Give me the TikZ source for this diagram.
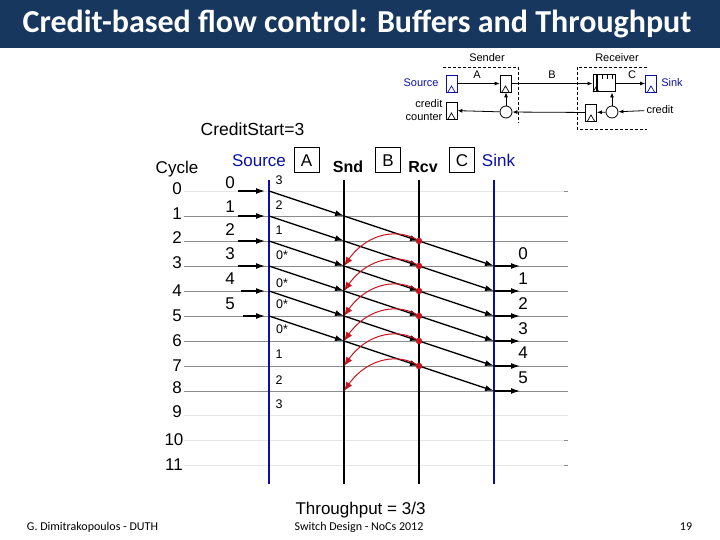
\documentclass[tikz,border=0pt]{standalone}
\usepackage{fontspec}
\usetikzlibrary{arrows.meta}
\setmainfont{Liberation Sans}
\newfontfamily\slidefont{Carlito}
\definecolor{barblue}{HTML}{17375E}
\definecolor{wireblue}{HTML}{0A0FA8}
\definecolor{creditred}{HTML}{C8141E}
\definecolor{gridlight}{HTML}{E6E6E6}
\definecolor{griddark}{HTML}{8C8C8C}
\tikzset{
    big/.style={inner sep=0pt, font=\fontsize{17}{18}\selectfont},
    count/.style={inner sep=0pt, font=\fontsize{12.5}{14}\selectfont},
    small/.style={inner sep=0pt, font=\fontsize{11}{13}\selectfont},
    foot/.style={inner sep=0pt, font=\slidefont\fontsize{12}{14}\selectfont},
    wirebox/.style={draw, line width=1pt, inner sep=0pt, minimum size=25pt, font=\fontsize{17}{18}\selectfont},
    reg/.style={draw, line width=0.8pt, inner sep=0pt, minimum width=11pt, minimum height=17pt},
    adder/.style={draw, circle, line width=0.8pt, inner sep=0pt, minimum size=12pt},
    wire/.style={-{Latex[length=5pt,width=4pt]}, line width=0.8pt},
    flow/.style={-{Latex[length=9pt,width=6pt]}, line width=1.3pt},
    credit/.style={-{Latex[length=9pt,width=7pt]}, line width=1pt, creditred},
    reddot/.style={circle, fill=creditred, inner sep=0pt, minimum size=6.5pt},
}
\begin{document}
\begin{tikzpicture}[x=1pt, y=-1pt]
    \useasboundingbox (0, 0) rectangle (720, 540);
    \fill[barblue] (0, 0) rectangle (720, 48);
    \node[inner sep=0pt, text=white, font=\slidefont\bfseries\fontsize{32}{34}\selectfont] (title) at (357, 24) {Credit-based flow control: Buffers and Throughput};

    % small circuit
    \node[small] (sender) at (487, 58) {Sender};
    \node[small] (receiver) at (617, 58) {Receiver};
    \draw[densely dashed, line width=0.8pt] (443, 67) -- (518, 67) -- (518, 123);
    \draw[densely dashed, line width=0.8pt] (647, 67) -- (577, 67) -- (577, 129) -- (647, 129);
    \node[small, text=wireblue] (srclabel) at (421, 83) {Source};
    \node[reg, draw=wireblue] (srcreg) at (451.5, 83.5) {};
    \node[reg] (sndreg) at (505.5, 83.5) {};
    \node[draw, line width=1pt, inner sep=0pt, minimum width=22pt, minimum height=17pt] (fifo) at (604, 83.5) {};
    \node[reg, draw=wireblue] (snkreg) at (651, 83.5) {};
    \node[small, text=wireblue] (snklabel) at (672, 83) {Sink};
    \node[small] (a) at (477, 75) {A};
    \node[small] (b) at (552, 75) {B};
    \node[small] (c) at (632, 75) {C};
    \node[small, align=right] (counterlabel) at (424, 110.5) {credit\\counter};
    \node[reg] (cntreg) at (451.5, 110.5) {};
    \node[adder] (sndadder) at (506, 112) {};
    \node[reg] (rcvreg) at (591, 112.5) {};
    \node[adder] (rcvadder) at (612, 112) {};
    \node[small] (creditlabel) at (660, 110) {credit};
    \draw (srcreg) edge[wire] (sndreg)
        (sndreg) edge[wire] (fifo)
        (fifo) edge[wire] (snkreg)
        (creditlabel) edge[wire, shorten <=2pt] (rcvadder)
        (rcvadder) edge[wire] (rcvreg)
        (rcvadder) edge[wire] (rcvadder |- fifo.south)
        (rcvreg) edge[wire] (sndadder)
        (sndadder) edge[wire] (cntreg)
        (sndadder) edge[wire] (sndadder |- sndreg.south);
    \draw[line width=1.2pt] (597, 75) -- (597, 92);
    \draw[line width=0.7pt] (602, 75) -- (602, 79) (607, 75) -- (607, 79) (612, 75) -- (612, 79);
    \draw[wireblue, line width=0.7pt] (448, 92) -- (451.5, 86) -- (455, 92);
    \draw[line width=0.7pt] (502, 92) -- (505.5, 86) -- (509, 92);
    \draw[line width=0.7pt] (593, 92) -- (596, 87) -- (599, 92);
    \draw[wireblue, line width=0.7pt] (647.5, 92) -- (651, 86) -- (654.5, 92);
    \draw[line width=0.7pt] (448, 119) -- (451.5, 113) -- (455, 119);
    \draw[line width=0.7pt] (587.5, 121) -- (591, 115) -- (594.5, 121);

    % headers
    \node[big, font=\fontsize{17.5}{18}\selectfont] (creditstart) at (252.5, 129) {CreditStart=3};
    \node[big] (cycle) at (177, 169) {Cycle};
    \node[big, text=wireblue] (source) at (259, 161) {Source};
    \node[wirebox] (boxa) at (306.5, 160.5) {A};
    \node[big, font=\bfseries\fontsize{16}{18}\selectfont] (snd) at (348, 167) {Snd};
    \node[wirebox] (boxb) at (388, 160.5) {B};
    \node[big, font=\bfseries\fontsize{16}{18}\selectfont] (rcv) at (423, 167) {Rcv};
    \node[wirebox] (boxc) at (462, 160.5) {C};
    \node[big, text=wireblue] (sink) at (498.5, 160) {Sink};

    % cycle lines
    \draw[gridlight] (184, 191) -- (568, 191);
    \draw[griddark] (184, 216) -- (568, 216);
    \draw[griddark] (184, 241) -- (568, 241);
    \draw[griddark] (184, 266) -- (568, 266);
    \draw[griddark] (184, 291) -- (568, 291);
    \draw[griddark] (184, 316) -- (568, 316);
    \draw[griddark] (184, 341) -- (568, 341);
    \draw[griddark] (184, 366) -- (568, 366);
    \draw[griddark] (184, 391) -- (568, 391);
    \draw[gridlight] (184, 415) -- (568, 415);
    \draw[gridlight] (184, 440) -- (568, 440);
    \draw[gridlight] (184, 465) -- (568, 465);
    \draw[griddark] (564, 191) -- (568, 191);
    \draw[griddark] (564, 440) -- (568, 440);
    \draw[griddark] (564, 465) -- (568, 465);

    \draw[wireblue, line width=2.6pt] (269, 180) -- (269, 484);
    \draw[line width=2.6pt] (344, 180) -- (344, 484);
    \draw[line width=2.6pt] (419, 180) -- (419, 484);
    \draw[wireblue, line width=2.6pt] (494, 180) -- (494, 484);

    % cycle numbers
    \node[big] (cyc0) at (177, 189) {0};
    \node[big] (cyc1) at (177, 214) {1};
    \node[big] (cyc2) at (177, 238) {2};
    \node[big] (cyc3) at (177, 263) {3};
    \node[big] (cyc4) at (177, 291) {4};
    \node[big] (cyc5) at (177, 316) {5};
    \node[big] (cyc6) at (177, 341) {6};
    \node[big] (cyc7) at (177, 366) {7};
    \node[big] (cyc8) at (177, 388) {8};
    \node[big] (cyc9) at (177, 412) {9};
    \node[big] (cyc10) at (174, 440) {10};
    \node[big] (cyc11) at (174, 465) {11};

    % flits entering
    \node[big] (in0) at (230, 183) {0};
    \node[big] (in1) at (230, 207) {1};
    \node[big] (in2) at (230, 230) {2};
    \node[big] (in3) at (230, 254) {3};
    \node[big] (in4) at (230, 279) {4};
    \node[big] (in5) at (230, 304) {5};

    % credit count
    \node[count] (count0) at (279, 180) {3};
    \node[count] (count1) at (279, 205) {2};
    \node[count] (count2) at (279, 230) {1};
    \node[count] (count3) at (282, 255) {0*};
    \node[count] (count4) at (282, 283) {0*};
    \node[count] (count5) at (282, 304) {0*};
    \node[count] (count6) at (282, 329) {0*};
    \node[count] (count7) at (279, 354) {1};
    \node[count] (count8) at (279, 380) {2};
    \node[count] (count9) at (279, 404) {3};

    % flits leaving
    \node[big] (out0) at (523, 254) {0};
    \node[big] (out1) at (523, 279) {1};
    \node[big] (out2) at (523, 304) {2};
    \node[big] (out3) at (523, 329) {3};
    \node[big] (out4) at (523, 353) {4};
    \node[big] (out5) at (523, 378) {5};

    \coordinate (start0) at (238, 191);
    \coordinate (start1) at (238, 216);
    \coordinate (start2) at (238, 241);
    \coordinate (start3) at (238, 266);
    \coordinate (start4) at (241, 291);
    \coordinate (start5) at (243, 316);
    \coordinate (src0) at (269, 191);
    \coordinate (src1) at (269, 216);
    \coordinate (src2) at (269, 241);
    \coordinate (src3) at (269, 266);
    \coordinate (src4) at (269, 291);
    \coordinate (src5) at (269, 316);
    \coordinate (snd0) at (344, 216);
    \coordinate (snd1) at (344, 241);
    \coordinate (snd2) at (344, 266);
    \coordinate (snd3) at (344, 291);
    \coordinate (snd4) at (344, 316);
    \coordinate (snd5) at (344, 341);
    \coordinate (snd6) at (344, 366);
    \coordinate (snd7) at (344, 391);
    \coordinate (rcv0) at (419, 241);
    \coordinate (rcv1) at (419, 266);
    \coordinate (rcv2) at (419, 291);
    \coordinate (rcv3) at (419, 316);
    \coordinate (rcv4) at (419, 341);
    \coordinate (rcv5) at (419, 366);
    \coordinate (snk0) at (494, 266);
    \coordinate (snk1) at (494, 291);
    \coordinate (snk2) at (494, 316);
    \coordinate (snk3) at (494, 341);
    \coordinate (snk4) at (494, 366);
    \coordinate (snk5) at (494, 391);
    \coordinate (end0) at (520, 266);
    \coordinate (end1) at (520, 291);
    \coordinate (end2) at (520, 316);
    \coordinate (end3) at (520, 341);
    \coordinate (end4) at (520, 366);
    \coordinate (end5) at (520, 391);

    \draw (start0) edge[flow, shorten >=4pt] (src0)
        (start1) edge[flow, shorten >=4pt] (src1)
        (start2) edge[flow, shorten >=4pt] (src2)
        (start3) edge[flow, shorten >=4pt] (src3)
        (start4) edge[flow, shorten >=4pt] (src4)
        (start5) edge[flow, shorten >=4pt] (src5);
    \draw (src0) edge[flow] (snd0)
        (src1) edge[flow] (snd1)
        (src2) edge[flow] (snd2)
        (src3) edge[flow] (snd3)
        (src4) edge[flow] (snd4)
        (src5) edge[flow] (snd5);
    \draw (snd0) edge[flow] (rcv0)
        (snd1) edge[flow] (rcv1)
        (snd2) edge[flow] (rcv2)
        (snd3) edge[flow] (rcv3)
        (snd4) edge[flow] (rcv4)
        (snd5) edge[flow] (rcv5);
    \draw (rcv0) edge[flow] (snk0)
        (rcv1) edge[flow] (snk1)
        (rcv2) edge[flow] (snk2)
        (rcv3) edge[flow] (snk3)
        (rcv4) edge[flow] (snk4)
        (rcv5) edge[flow] (snk5);
    \draw (snk0) edge[flow] (end0)
        (snk1) edge[flow] (end1)
        (snk2) edge[flow] (end2)
        (snk3) edge[flow] (end3)
        (snk4) edge[flow] (end4)
        (snk5) edge[flow] (end5);

    % credits going back
    \draw[credit] (rcv0) .. controls +(-19, -13) and +(24, -34) .. (snd2);
    \draw[credit] (rcv1) .. controls +(-19, -13) and +(24, -34) .. (snd3);
    \draw[credit] (rcv2) .. controls +(-19, -13) and +(24, -34) .. (snd4);
    \draw[credit] (rcv3) .. controls +(-19, -13) and +(24, -34) .. (snd5);
    \draw[credit] (rcv4) .. controls +(-19, -13) and +(24, -34) .. (snd6);
    \draw[credit] (rcv5) .. controls +(-19, -13) and +(24, -34) .. (snd7);
    \node[reddot] (dot0) at (rcv0) {};
    \node[reddot] (dot1) at (rcv1) {};
    \node[reddot] (dot2) at (rcv2) {};
    \node[reddot] (dot3) at (rcv3) {};
    \node[reddot] (dot4) at (rcv4) {};
    \node[reddot] (dot5) at (rcv5) {};

    \node[big] (throughput) at (360.5, 510) {Throughput = 3/3};
    \node[foot] (author) at (92.5, 527) {G. Dimitrakopoulos - DUTH};
    \node[foot] (event) at (359, 527) {Switch Design - NoCs 2012};
    \node[foot] (page) at (686, 527) {19};
\end{tikzpicture}
\end{document}
